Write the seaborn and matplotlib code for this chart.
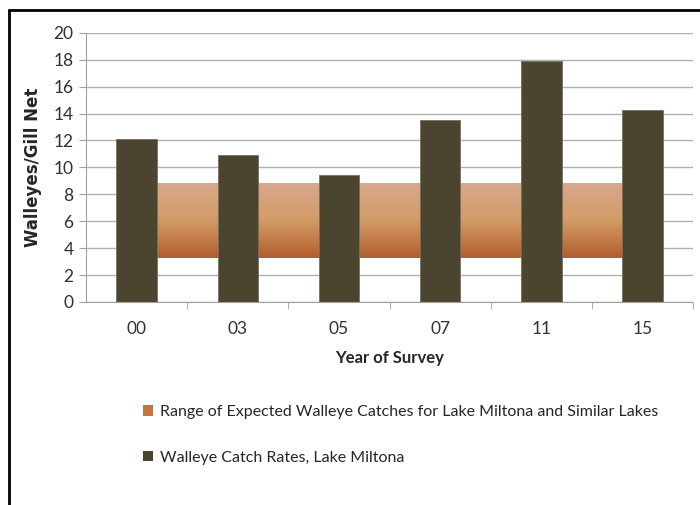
import matplotlib.pyplot as plt
import numpy as np
import pandas as pd
import seaborn as sns
from matplotlib.colors import LinearSegmentedColormap
from matplotlib.lines import Line2D
from matplotlib.patches import Patch

# data
years = ['00', '03', '05', '07', '11', '15']
catch_rates = [12.1, 10.9, 9.4, 13.5, 17.9, 14.3]
range_low = 3.3
range_high = 8.8

sns.set_style('white')
plt.rcParams['font.family'] = ['Lato', 'DejaVu Sans']

frame = pd.DataFrame({'year': years, 'rate': catch_rates})

fig = plt.figure(figsize=(7, 5.05), dpi=100)
ax = fig.add_axes([0.123, 0.402, 0.867, 0.533])

# gradient band for the expected range, behind the bars
band_cmap = LinearSegmentedColormap.from_list('band', ['#B35E2C', '#D29A66', '#D8A98C'])
grad = np.linspace(0, 1, 256).reshape(-1, 1)
ax.imshow(grad, cmap=band_cmap, origin='lower', aspect='auto',
          extent=(0, len(years) - 1, range_low, range_high), zorder=1)

sns.barplot(data=frame, x='year', y='rate', color='#4B4530', saturation=1,
            width=0.4, edgecolor='#77705E', linewidth=0.6, ax=ax, zorder=2)

ax.set_xlim(-0.5, len(years) - 0.5)
ax.set_ylim(0, 20)
ax.set_yticks(range(0, 21, 2))
ax.yaxis.grid(True, color='#B0B0B0', linewidth=1)
ax.set_axisbelow(True)
for s in ['top', 'right']:
    ax.spines[s].set_visible(False)
for s in ['left', 'bottom']:
    ax.spines[s].set_color('#A0A0A0')
ax.set_xticks(np.arange(len(years)))
ax.set_xticklabels(years)
ax.set_xticks(np.arange(len(years)) + 0.5, minor=True)
ax.tick_params(axis='x', which='major', length=0, pad=14, labelsize=12.5, labelcolor='#303030')
ax.tick_params(axis='x', which='minor', length=5, color='#A0A0A0')
ax.tick_params(axis='y', length=5, color='#A0A0A0', labelsize=12.5, pad=4, labelcolor='#303030')
ax.yaxis.set_ticks_position('left')
ax.xaxis.set_ticks_position('bottom')

ax.set_xlabel('Year of Survey', fontweight='bold', fontsize=12, labelpad=9)
ax.set_ylabel('Walleyes/Gill Net', fontweight='bold', fontsize=12,
              family='DejaVu Sans', labelpad=8)

handles = [Patch(facecolor='#C27441', edgecolor='none'),
           Patch(facecolor='#4B4530', edgecolor='none')]
labels = ['Range of Expected Walleye Catches for Lake Miltona and Similar Lakes',
          'Walleye Catch Rates, Lake Miltona']
fig.legend(handles, labels, loc='upper left', bbox_to_anchor=(0.193, 0.213),
           frameon=False, fontsize=11.5, handlelength=0.65, handleheight=0.65,
           handletextpad=0.4, labelspacing=1.95, borderpad=0)

# outer frame lines of the original picture
fig.add_artist(Line2D([9 / 700, 9 / 700], [0, 1 - 10 / 505], color='black', linewidth=2))
fig.add_artist(Line2D([9 / 700, 1], [1 - 10 / 505, 1 - 10 / 505], color='black', linewidth=2))

fig.savefig('out.png', dpi=100)
